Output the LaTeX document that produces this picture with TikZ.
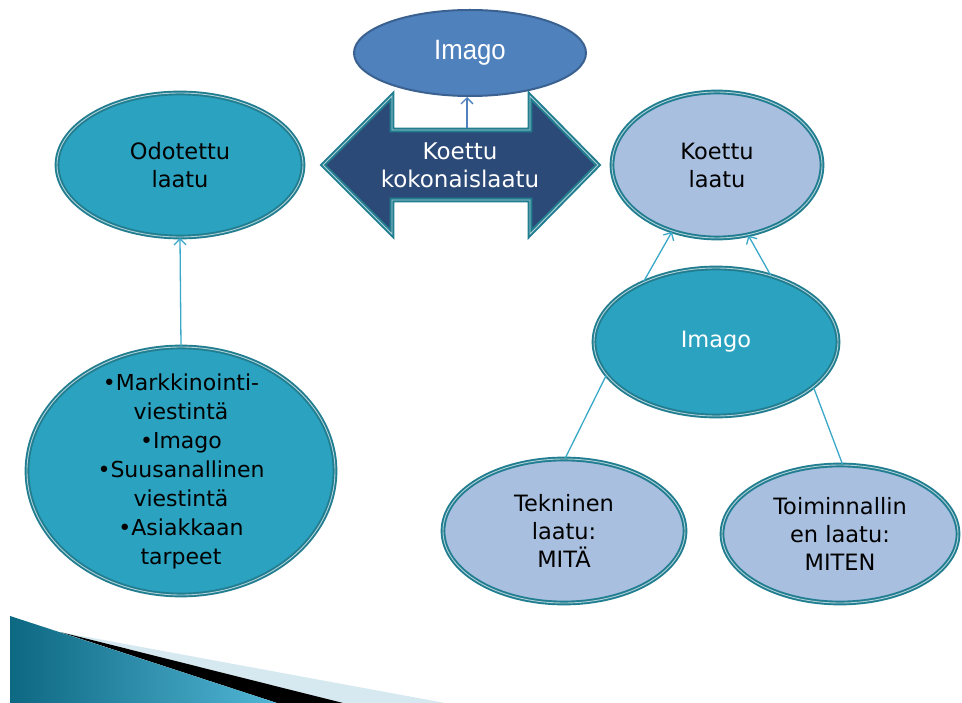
\documentclass[tikz,border=0pt]{standalone}
\usepackage{fontspec}
\setmainfont{DejaVu Sans}
\newfontfamily\narrowfont{Liberation Sans}
\usetikzlibrary{arrows.meta,shapes.geometric}

\definecolor{tealfill}{HTML}{2BA3C0}
\definecolor{tealedge}{HTML}{217D90}
\definecolor{tealline}{HTML}{3AA8C8}
\definecolor{paleblue}{HTML}{A8BFDF}
\definecolor{topblue}{HTML}{4F81BD}
\definecolor{topedge}{HTML}{3A6190}
\definecolor{navy}{HTML}{2C4A77}
\definecolor{swooshdark}{HTML}{0D6882}
\definecolor{swooshlight}{HTML}{52B6D6}
\definecolor{swooshpale}{HTML}{D6E9F0}

\tikzset{
  bubble/.style={ellipse, inner sep=0pt, draw=tealedge, line width=1.9pt,
    double=tealedge!35!white, double distance=0.9pt},
  tealbubble/.style={bubble, fill=tealfill},
  palebubble/.style={bubble, fill=paleblue},
  txt/.style={align=center, font=\fontsize{22.5}{28}\selectfont},
  link/.style={draw=tealline, line width=1.3pt},
  barb/.style={-{Straight Barb[length=6pt,width=12pt,line width=1.3pt]}},
  arr/.style={link, barb},
}

\begin{document}
\begin{tikzpicture}[x=1pt, y=-1pt]
\useasboundingbox (0,0) rectangle (962,703);
\fill[white] (0,0) rectangle (962,703);

% decorative swoosh, bottom left
\fill[swooshpale] (60,632) -- (445,703) -- (343,703) -- cycle;
\fill[black] (60,632) -- (343,703) -- (277,703) -- cycle;
\shade[left color=swooshdark, right color=swooshlight]
  (10,616) -- (277,703) -- (10,703) -- cycle;

% top ellipse
\node[ellipse, draw=topedge, line width=2pt, fill=topblue,
      minimum width=232, minimum height=86, inner sep=0pt] (topimago) at (470,53)
  {\narrowfont\fontsize{28}{30}\selectfont\color{white}\scalebox{0.92}[1]{Imago}};

% double arrow
\draw[draw=tealedge, line width=2pt, double=tealedge!35!white, double distance=0.9pt,
      fill=navy, line join=miter]
  (323,165) -- (392,96) -- (392,130) -- (530,130) -- (530,96) -- (598,165)
  -- (530,234) -- (530,200) -- (392,200) -- (392,234) -- cycle;
\node[txt, text=white, font=\fontsize{23}{28}\selectfont] (total) at (460,165)
  {Koettu\\kokonaislaatu};
\coordinate (shafttop) at (467,128);
\draw[draw=topblue, line width=1.3pt, barb]
  (shafttop) -- (shafttop |- topimago.south);

% left column
\node[tealbubble, minimum width=246, minimum height=144,
      label={[txt, text=black]center:Odotettu\\laatu}] (odo) at (180,165) {};
\node[tealbubble, minimum width=308, minimum height=248,
      label={[txt, text=black, font=\fontsize{22}{29}\selectfont]center:%
        •Markkinointi-\\viestintä\\•Imago\\•Suusanallinen\\viestintä\\•Asiakkaan\\tarpeet}]
  (sources) at (181,471) {};
\draw[arr] (sources.north) -- (odo.south);

% right column
\node[palebubble, minimum width=210, minimum height=146,
      label={[txt, text=black]center:Koettu\\laatu}] (koettu) at (717,165) {};
\node[tealbubble, minimum width=244, minimum height=148,
      label={[txt, text=white]center:Imago}] (imago) at (716,342) {};
\node[palebubble, minimum width=242, minimum height=144,
      label={[txt, text=black]center:Tekninen\\laatu:\\MITÄ}] (tekn) at (564,531) {};
\node[palebubble, minimum width=236, minimum height=138,
      label={[txt, text=black]center:Toiminnallin\\en laatu:\\MITEN}] (toim) at (840,534) {};

\draw[arr] (imago.140) -- (koettu.236);
\draw[arr] (imago.51) -- (koettu.294);
\draw[link] (imago.197) -- (tekn.89);
\draw[link] (imago.335) -- (toim.88);
\end{tikzpicture}
\end{document}
